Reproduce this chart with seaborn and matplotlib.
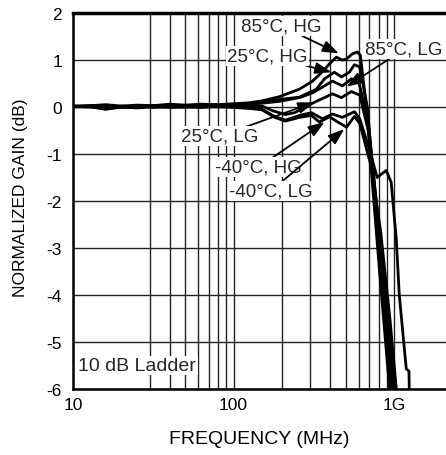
import pandas as pd
import seaborn as sns
import matplotlib.pyplot as plt

# frequency (MHz) / normalized gain (dB)
freq_85_hg = [10, 13, 16, 20, 25, 32, 40, 50, 63, 80, 100, 125, 150, 193, 257, 310, 357, 395, 436,
              475, 504, 548, 589, 615, 640, 670, 730, 810, 935]
gain_85_hg = [0.02, 0.03, 0.05, 0.02, 0.04, 0.03, 0.06, 0.04, 0.06, 0.05, 0.07, 0.09, 0.13, 0.22, 0.38,
              0.55, 0.75, 0.92, 1.06, 1.0, 1.02, 1.13, 1.17, 1.1, 0.6, 0.0, -1.6, -3.5, -6.0]

freq_25_hg = [10, 13, 16, 20, 25, 32, 40, 50, 63, 80, 100, 125, 150, 193, 257, 328, 368, 424, 469,
              525, 565, 610, 680, 745, 830, 960]
gain_25_hg = [0.0, 0.03, -0.02, 0.02, 0.0, 0.03, 0.01, 0.04, 0.02, 0.05, 0.04, 0.06, 0.1, 0.16, 0.21,
              0.38, 0.6, 0.74, 0.64, 0.74, 0.9, 0.85, 0.0, -1.7, -3.6, -6.0]

freq_85_lg = [10, 13, 16, 20, 25, 32, 40, 50, 63, 80, 100, 125, 150, 193, 257, 310, 368, 412, 476,
              541, 600, 690, 770, 870, 980]
gain_85_lg = [0.01, 0.0, 0.03, -0.01, 0.02, 0.0, 0.03, 0.02, 0.04, 0.03, 0.05, 0.06, 0.08, 0.12, 0.2,
              0.3, 0.45, 0.55, 0.45, 0.6, 0.55, -0.3, -2.0, -4.0, -6.0]

freq_25_lg = [10, 13, 16, 20, 25, 32, 40, 50, 63, 80, 100, 125, 150, 175, 210, 240, 280, 318, 368,
              412, 469, 541, 610, 700, 790, 900, 1010]
gain_25_lg = [0.02, 0.01, -0.03, 0.0, 0.02, -0.01, 0.01, 0.0, 0.02, 0.0, 0.01, 0.02, 0.02, -0.08,
              -0.16, -0.12, 0.0, 0.1, 0.2, 0.28, 0.2, 0.33, 0.25, -0.6, -2.3, -4.3, -6.0]

freq_m40_hg = [10, 13, 16, 20, 25, 32, 40, 50, 63, 80, 100, 125, 150, 180, 210, 257, 305, 357, 412,
               476, 565, 610, 700, 783, 891, 957, 1029, 1075, 1188, 1235, 1240]
gain_m40_hg = [0.0, 0.02, -0.04, 0.01, -0.01, 0.02, 0.0, 0.01, 0.0, 0.02, 0.0, -0.02, -0.05, -0.2,
               -0.28, -0.18, -0.12, -0.25, -0.15, -0.22, -0.1, -0.25, -0.9, -1.5, -1.35, -1.6, -2.8,
               -4.0, -5.57, -5.62, -6.0]

freq_m40_lg = [10, 13, 16, 20, 25, 32, 40, 50, 63, 80, 100, 125, 150, 180, 210, 257, 305, 342, 395,
               436, 504, 565, 610, 710, 820, 940, 1030]
gain_m40_lg = [0.01, 0.0, -0.05, 0.0, -0.02, 0.01, -0.01, 0.0, -0.01, 0.01, -0.01, -0.03, -0.06,
               -0.22, -0.3, -0.22, -0.18, -0.32, -0.21, -0.3, -0.43, -0.2, -0.35, -1.2, -2.6, -4.5, -6.0]

curves = {
    '85HG': (freq_85_hg, gain_85_hg), '25HG': (freq_25_hg, gain_25_hg),
    '85LG': (freq_85_lg, gain_85_lg), '25LG': (freq_25_lg, gain_25_lg),
    '-40HG': (freq_m40_hg, gain_m40_hg), '-40LG': (freq_m40_lg, gain_m40_lg),
}

x_major = [10, 100, 1000]
x_major_labels = ['10', '100', '1G']
x_minor = [30, 40, 50, 60, 70, 80, 90, 200, 300, 400, 500, 600, 700, 800, 900]
y_ticks = [-6, -5, -4, -3, -2, -1, 0, 1, 2]

# (label, arrow tip f, arrow tip dB, text f, text dB)
labels = [
    ('85°C, HG', 452, 1.14, 199, 1.72),
    ('25°C, HG', 406, 0.74, 163, 1.09),
    ('85°C, LG', 504, 0.43, 1153, 1.23),
    ('25°C, LG', 318, 0.10, 82, -0.62),
    ('-40°C, HG', 368, -0.32, 143, -1.28),
    ('-40°C, LG', 489, -0.47, 170, -1.79),
]

rows = []
for name, (f, g) in curves.items():
    for fi, gi in zip(f, g):
        rows.append({'curve': name, 'freq': fi, 'gain': gi})
df = pd.DataFrame(rows)

sns.set_theme(style='white')
plt.rcParams['font.family'] = ['Liberation Sans', 'DejaVu Sans']

fig = plt.figure(figsize=(4.46, 4.56), dpi=100)
ax = fig.add_axes([73 / 446, 1 - 390 / 456, 1 - 73 / 446, 376 / 456])

sns.lineplot(data=df, x='freq', y='gain', units='curve', estimator=None, sort=False,
             color='black', linewidth=2.0, ax=ax, zorder=3)

ax.set_xscale('log')
ax.set_xlim(10, 2100)
ax.set_ylim(-6, 2)

ax.set_xticks(x_major)
ax.set_xticklabels(x_major_labels)
ax.set_xticks(x_minor, minor=True)
ax.set_xticklabels([], minor=True)
ax.set_yticks(y_ticks)
ax.set_yticklabels([str(v) for v in y_ticks])
ax.tick_params(which='both', length=0, labelsize=12.5, colors='black')
ax.tick_params(axis='x', pad=6)
ax.tick_params(axis='y', pad=8)

ax.grid(which='both', color='#222222', linewidth=1.0)
ax.set_axisbelow(True)

for side in ['left', 'bottom']:
    ax.spines[side].set_linewidth(1.8)
    ax.spines[side].set_color('black')
ax.spines['top'].set_linewidth(2.5)
ax.spines['top'].set_color('black')
ax.spines['right'].set_visible(False)

ax.set_xlabel('FREQUENCY (MHz)', fontsize=14, labelpad=13, color='black')
ax.set_ylabel('NORMALIZED GAIN (dB)', fontsize=12.5, color='black')
ax.yaxis.set_label_coords(-0.12, 0.51)

box = dict(facecolor='white', edgecolor='none', pad=1.0)
for text, fx, gx, ft, gt in labels:
    ax.annotate(text, xy=(fx, gx), xytext=(ft, gt), ha='center', va='center', fontsize=13.5,
                bbox=box, zorder=5,
                arrowprops=dict(arrowstyle='-|>,head_length=0.7,head_width=0.25', color='black',
                                lw=1.3, mutation_scale=14, shrinkA=0, shrinkB=0))

ax.text(10.8, -5.5, '10 dB Ladder', ha='left', va='center', fontsize=14, bbox=box, zorder=5)

fig.savefig('out.png', dpi=100)
